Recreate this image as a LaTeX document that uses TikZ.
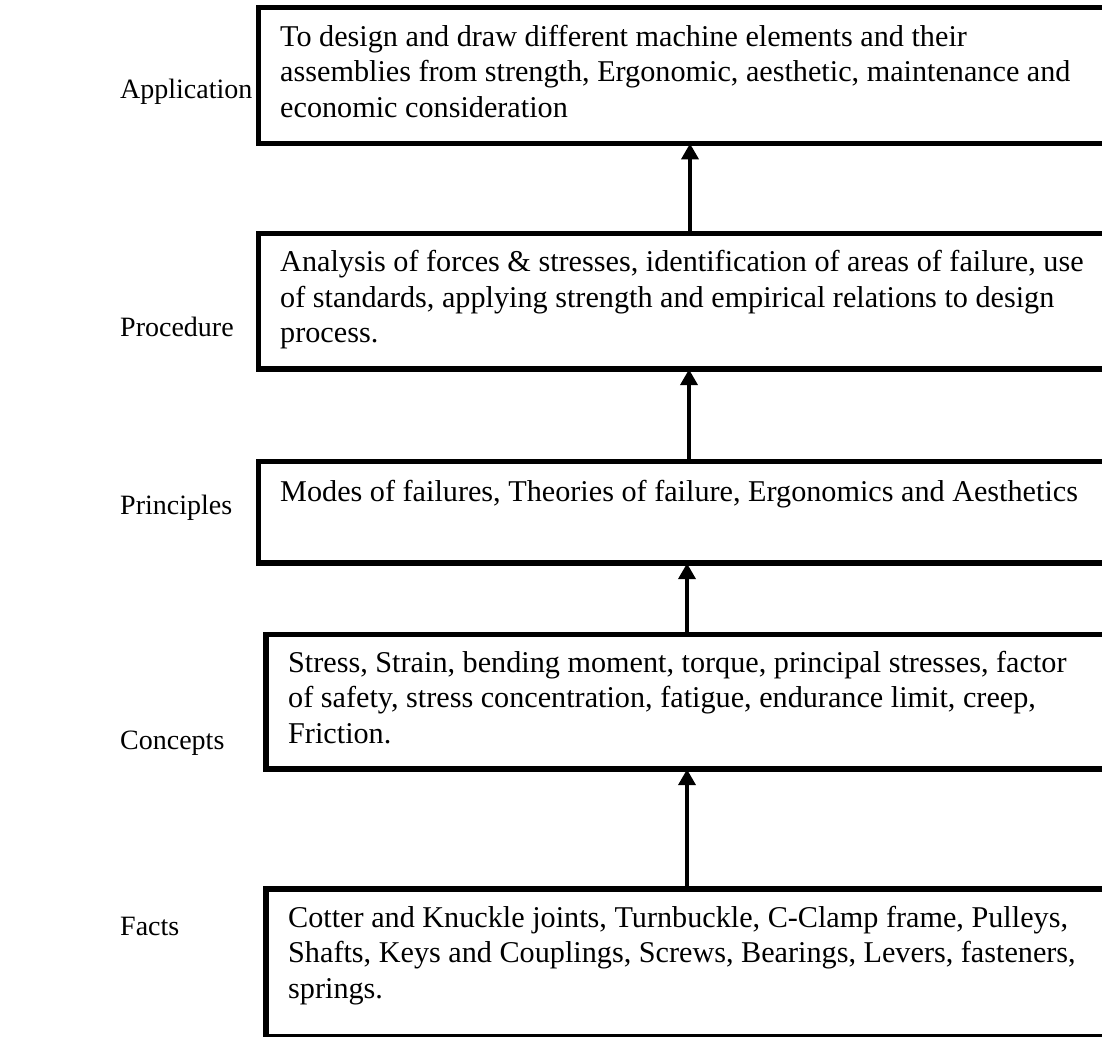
\documentclass[tikz,border=0pt]{standalone}
\usepackage{fontspec}
\setmainfont{Liberation Serif}
\usetikzlibrary{arrows.meta}
\tikzset{
  boxframe/.style={draw=black, line width=5.5pt, inner sep=0pt, outer sep=0pt, anchor=north west},
  bodytext/.style={anchor=base west, align=left, inner sep=0pt, font=\fontsize{30.2}{35.6}\selectfont},
  sidelabel/.style={anchor=base west, inner sep=0pt, font=\fontsize{28}{33}\selectfont},
  uparrow/.style={line width=4.5pt, -{Triangle[length=16pt,width=17pt]}}
}
\begin{document}
\begin{tikzpicture}[x=1pt,y=1pt]
\useasboundingbox (0,0) rectangle (1102,1036);
\clip (0,0) rectangle (1102,1036);
% boxes (y measured from top: 1036 - px)
\node[boxframe, minimum width=870pt, minimum height=136pt] (b1) at (258.5,1028.5) {};
\node[boxframe, minimum width=870pt, minimum height=135.5pt] (b2) at (258.5,802.25) {};
\node[boxframe, minimum width=870pt, minimum height=101.5pt] (b3) at (258.5,574.25) {};
\node[boxframe, minimum width=870pt, minimum height=134.5pt] (b4) at (265.75,401.25) {};
\node[boxframe, minimum width=870pt, minimum height=148pt] (b5) at (265.75,147.25) {};
% texts (anchored at the baseline of the last line)
\node[bodytext] (t1) at (280,918.5) {To design and draw different machine elements and their\\assemblies from strength, Ergonomic, aesthetic, maintenance and\\economic consideration};
\node[bodytext] (t2) at (280,693) {Analysis of forces \& stresses, identification of areas of failure, use\\of standards, applying strength and empirical relations to design\\process.};
\node[bodytext] (t3) at (280,534) {Modes of failures, Theories of failure, Ergonomics and Aesthetics};
\node[bodytext] (t4) at (288,292.5) {Stress, Strain, bending moment, torque, principal stresses, factor\\of safety, stress concentration, fatigue, endurance limit, creep,\\Friction.};
\node[bodytext] (t5) at (288,37.5) {Cotter and Knuckle joints, Turnbuckle, C-Clamp frame, Pulleys,\\Shafts, Keys and Couplings, Screws, Bearings, Levers, fasteners,\\springs.};
% side labels
\node[sidelabel] (l1) at (120,937) {Application};
\node[sidelabel] (l2) at (120,699) {Procedure};
\node[sidelabel] (l3) at (120,521) {Principles};
\node[sidelabel] (l4) at (120,286) {Concepts};
\node[sidelabel] (l5) at (120,101) {Facts};
% arrows
\coordinate (a1) at (690,0);
\coordinate (a2) at (689,0);
\coordinate (a3) at (687,0);
\coordinate (a4) at (687,0);
\draw[uparrow] (b2.north -| a1) -- (b1.south -| a1);
\draw[uparrow] (b3.north -| a2) -- (b2.south -| a2);
\draw[uparrow] (b4.north -| a3) -- (b3.south -| a3);
\draw[uparrow] (b5.north -| a4) -- (b4.south -| a4);
\end{tikzpicture}
\end{document}
